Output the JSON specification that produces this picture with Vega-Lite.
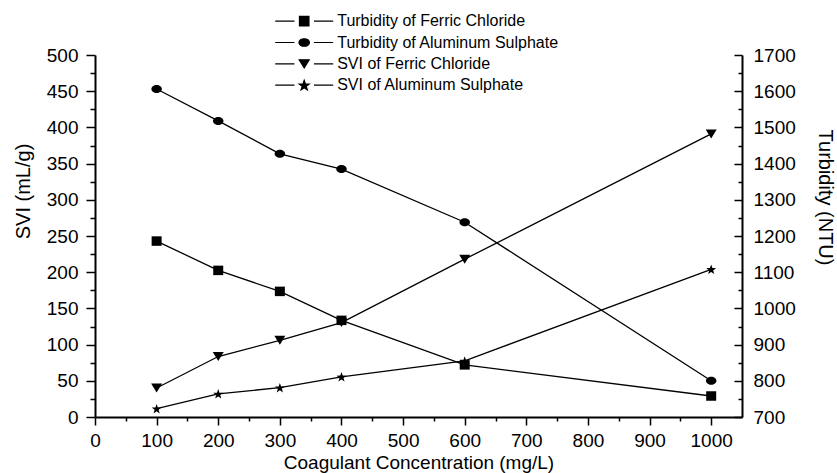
{
  "$schema": "https://vega.github.io/schema/vega-lite/v6.json",
  "width": 647,
  "height": 362,
  "autosize": {"type": "none"},
  "padding": {"left": 95, "top": 55, "right": 95, "bottom": 56},
  "config": {
    "view": {"stroke": null},
    "font": "Liberation Sans",
    "axis": {
      "grid": false,
      "domainColor": "black",
      "domainWidth": 2,
      "tickColor": "black",
      "tickWidth": 1.5,
      "labelColor": "black",
      "titleColor": "black",
      "labelFont": "Liberation Sans",
      "titleFont": "Liberation Sans",
      "labelFontSize": 19,
      "titleFontSize": 19,
      "titleFontWeight": "normal",
      "labelOverlap": false,
      "labelFlush": false
    }
  },
  "datasets": {
    "svi": [
      {"conc": 100, "series": "SVI of Ferric Chloride", "svi": 40},
      {"conc": 200, "series": "SVI of Ferric Chloride", "svi": 83.5},
      {"conc": 300, "series": "SVI of Ferric Chloride", "svi": 106},
      {"conc": 400, "series": "SVI of Ferric Chloride", "svi": 130.5},
      {"conc": 600, "series": "SVI of Ferric Chloride", "svi": 218},
      {"conc": 1000, "series": "SVI of Ferric Chloride", "svi": 391},
      {"conc": 100, "series": "SVI of Aluminum Sulphate", "svi": 11.5},
      {"conc": 200, "series": "SVI of Aluminum Sulphate", "svi": 32},
      {"conc": 300, "series": "SVI of Aluminum Sulphate", "svi": 40.5},
      {"conc": 400, "series": "SVI of Aluminum Sulphate", "svi": 55.5},
      {"conc": 600, "series": "SVI of Aluminum Sulphate", "svi": 77.5},
      {"conc": 1000, "series": "SVI of Aluminum Sulphate", "svi": 204}
    ],
    "turb": [
      {"conc": 100, "series": "Turbidity of Ferric Chloride", "turbidity": 1186},
      {"conc": 200, "series": "Turbidity of Ferric Chloride", "turbidity": 1105},
      {"conc": 300, "series": "Turbidity of Ferric Chloride", "turbidity": 1047},
      {"conc": 400, "series": "Turbidity of Ferric Chloride", "turbidity": 967},
      {"conc": 600, "series": "Turbidity of Ferric Chloride", "turbidity": 844},
      {"conc": 1000, "series": "Turbidity of Ferric Chloride", "turbidity": 758},
      {"conc": 100, "series": "Turbidity of Aluminum Sulphate", "turbidity": 1606},
      {"conc": 200, "series": "Turbidity of Aluminum Sulphate", "turbidity": 1518},
      {"conc": 300, "series": "Turbidity of Aluminum Sulphate", "turbidity": 1427},
      {"conc": 400, "series": "Turbidity of Aluminum Sulphate", "turbidity": 1385},
      {"conc": 600, "series": "Turbidity of Aluminum Sulphate", "turbidity": 1238},
      {"conc": 1000, "series": "Turbidity of Aluminum Sulphate", "turbidity": 800}
    ],
    "legend": [
      {"series": "Turbidity of Ferric Chloride", "conc": null},
      {"series": "Turbidity of Aluminum Sulphate", "conc": null},
      {"series": "SVI of Ferric Chloride", "conc": null},
      {"series": "SVI of Aluminum Sulphate", "conc": null}
    ]
  },
  "layer": [
    {
      "data": {"name": "svi"},
      "encoding": {
        "x": {
          "field": "conc", "type": "quantitative",
          "scale": {"domain": [0, 1050], "nice": false, "zero": false},
          "axis": {
            "title": "Coagulant Concentration (mg/L)",
            "values": [0, 50, 100, 150, 200, 250, 300, 350, 400, 450, 500, 550, 600, 650, 700, 750, 800, 850, 900, 950, 1000],
            "format": "d",
            "labelExpr": "datum.value % 100 === 0 ? datum.label : ''",
            "tickSize": {"condition": {"test": "datum.value % 100 === 0", "value": 8}, "value": 4},
            "labelPadding": 6,
            "titleX": 323.5,
            "titleY": 45,
            "titleAlign": "center",
            "titleBaseline": "middle"
          }
        },
        "y": {
          "field": "svi", "type": "quantitative",
          "scale": {"domain": [0, 500], "nice": false},
          "axis": {
            "title": "SVI (mL/g)",
            "values": [0, 25, 50, 75, 100, 125, 150, 175, 200, 225, 250, 275, 300, 325, 350, 375, 400, 425, 450, 475, 500],
            "format": "d",
            "labelExpr": "datum.value % 50 === 0 ? datum.label : ''",
            "tickSize": {"condition": {"test": "datum.value % 50 === 0", "value": 9}, "value": 5},
            "labelPadding": 8,
            "titleFontSize": 20,
            "titleAngle": -90,
            "titleX": -72,
            "titleY": 136,
            "titleAlign": "center",
            "titleBaseline": "middle"
          }
        }
      },
      "layer": [
        {"mark": {"type": "line", "color": "black", "strokeWidth": 1.3}, "encoding": {"detail": {"field": "series"}}},
        {
          "mark": {"type": "point", "filled": true, "color": "black", "opacity": 1, "size": 100},
          "encoding": {
            "shape": {
              "field": "series",
              "scale": {
                "domain": ["SVI of Ferric Chloride", "SVI of Aluminum Sulphate"],
                "range": [
                  "M-1.1,-0.9L1.1,-0.9L0,0.9Z",
                  "M0,-0.95L0.247,-0.24L0.999,-0.225L0.399,0.23L0.617,0.95L0,0.52L-0.617,0.95L-0.399,0.23L-0.999,-0.225L-0.247,-0.24Z"
                ]
              },
              "legend": null
            }
          }
        }
      ]
    },
    {
      "data": {"name": "turb"},
      "encoding": {
        "x": {
          "field": "conc", "type": "quantitative",
          "scale": {"domain": [0, 1050], "nice": false, "zero": false},
          "axis": {
            "title": "Coagulant Concentration (mg/L)",
            "values": [0, 50, 100, 150, 200, 250, 300, 350, 400, 450, 500, 550, 600, 650, 700, 750, 800, 850, 900, 950, 1000],
            "format": "d",
            "labelExpr": "datum.value % 100 === 0 ? datum.label : ''",
            "tickSize": {"condition": {"test": "datum.value % 100 === 0", "value": 8}, "value": 4},
            "labelPadding": 6,
            "titleX": 323.5,
            "titleY": 45,
            "titleAlign": "center",
            "titleBaseline": "middle"
          }
        },
        "y": {
          "field": "turbidity", "type": "quantitative",
          "scale": {"domain": [700, 1700], "nice": false, "zero": false},
          "axis": {
            "orient": "right",
            "title": "Turbidity (NTU)",
            "values": [700, 750, 800, 850, 900, 950, 1000, 1050, 1100, 1150, 1200, 1250, 1300, 1350, 1400, 1450, 1500, 1550, 1600, 1650, 1700],
            "format": "d",
            "labelExpr": "datum.value % 100 === 0 ? datum.label : ''",
            "tickSize": {"condition": {"test": "datum.value % 100 === 0", "value": -8}, "value": -4},
            "labelPadding": 19,
            "titleFontSize": 20,
            "titleAngle": 90,
            "titleX": 82,
            "titleY": 142,
            "titleAlign": "center",
            "titleBaseline": "middle"
          }
        }
      },
      "layer": [
        {"mark": {"type": "line", "color": "black", "strokeWidth": 1.3}, "encoding": {"detail": {"field": "series"}}},
        {
          "mark": {"type": "point", "filled": true, "color": "black", "opacity": 1, "size": 100},
          "encoding": {
            "shape": {
              "field": "series",
              "scale": {
                "domain": ["Turbidity of Ferric Chloride", "Turbidity of Aluminum Sulphate"],
                "range": [
                  "M-1,-0.95H1V0.95H-1Z",
                  "M-1.05,0A1.05,0.8 0 1,1 1.05,0A1.05,0.8 0 1,1 -1.05,0Z"
                ]
              },
              "legend": null
            }
          }
        }
      ]
    },
    {
      "data": {"name": "legend"},
      "mark": {"type": "point", "filled": true, "fill": "black", "stroke": "black", "strokeWidth": 1.2, "opacity": 1, "size": 100},
      "encoding": {
        "x": {
          "field": "conc", "type": "quantitative",
          "scale": {"domain": [0, 1050], "nice": false, "zero": false},
          "axis": {
            "title": "Coagulant Concentration (mg/L)",
            "values": [0, 50, 100, 150, 200, 250, 300, 350, 400, 450, 500, 550, 600, 650, 700, 750, 800, 850, 900, 950, 1000],
            "format": "d",
            "labelExpr": "datum.value % 100 === 0 ? datum.label : ''",
            "tickSize": {"condition": {"test": "datum.value % 100 === 0", "value": 8}, "value": 4},
            "labelPadding": 6,
            "titleX": 323.5,
            "titleY": 45,
            "titleAlign": "center",
            "titleBaseline": "middle"
          }
        },
        "shape": {
          "field": "series",
          "scale": {
            "domain": ["Turbidity of Ferric Chloride", "Turbidity of Aluminum Sulphate", "SVI of Ferric Chloride", "SVI of Aluminum Sulphate"],
            "range": [
              "M-5.8,0L-1.95,0M1.95,0L5.8,0M-0.95,-0.95L0.95,-0.95L0.95,0.95L-0.95,0.95Z",
              "M-5.8,0L-1.95,0M1.95,0L5.8,0M-1.05,0A1.05,0.75 0 1,1 1.05,0A1.05,0.75 0 1,1 -1.05,0Z",
              "M-5.8,0L-1.95,0M1.95,0L5.8,0M-1.0,-0.8L1.0,-0.8L0,0.8Z",
              "M-5.8,0L-1.95,0M1.95,0L5.8,0M0,-0.95L0.247,-0.24L0.999,-0.225L0.399,0.23L0.617,0.95L0,0.52L-0.617,0.95L-0.399,0.23L-0.999,-0.225L-0.247,-0.24Z"
            ]
          },
          "legend": {
            "title": null,
            "orient": "none",
            "legendX": 201.2,
            "legendY": -41.8,
            "padding": 0,
            "symbolSize": 100,
            "symbolStrokeWidth": 1.2,
            "labelFont": "Liberation Sans",
            "labelFontSize": 16,
            "labelColor": "black",
            "labelLimit": 0,
            "labelOffset": 25,
            "rowPadding": 5.3
          }
        }
      }
    }
  ],
  "resolve": {"scale": {"y": "independent", "shape": "independent"}}
}
